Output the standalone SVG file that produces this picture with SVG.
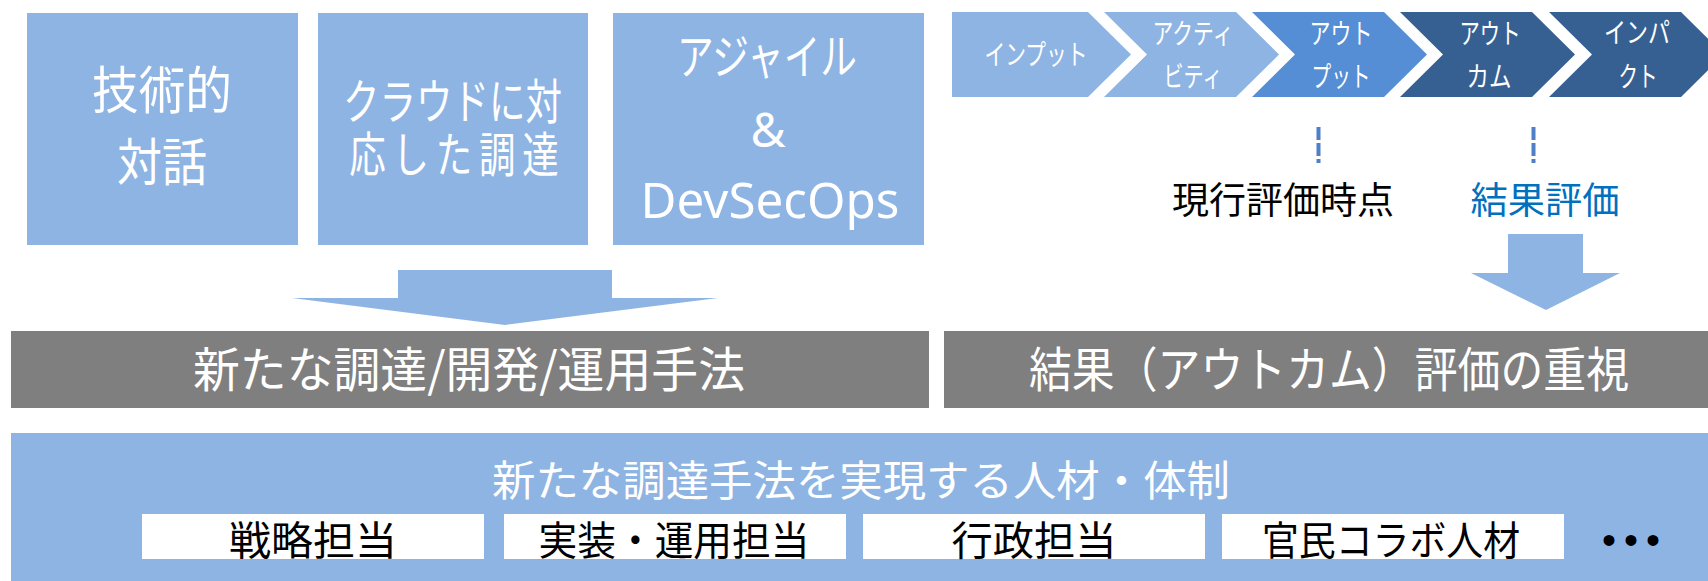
<svg xmlns="http://www.w3.org/2000/svg" width="1708" height="581" viewBox="0 0 1708 581">
<style>
.lb{fill:#8EB4E3}
.mb{fill:#558ED5}
.db{fill:#376092}
.gr{fill:#7F7F7F}
.wh{fill:#FFFFFF}
text{font-family:"Noto Sans CJK JP","Noto Sans",sans-serif;text-anchor:middle}
.wt{fill:#FFFFFF}
.bk{fill:#000000}
.lat{font-family:"Noto Sans","Liberation Sans",sans-serif}
.dash{stroke:#4F7FC6;stroke-width:4;stroke-dasharray:13 3;fill:none}
</style>
<rect width="1708" height="581" fill="#FFFFFF"/>

<g id="node-gijutsu">
<rect class="lb" x="27" y="13" width="271" height="232"/>
<text class="wt" font-size="51"><tspan x="162" y="109" textLength="140" lengthAdjust="spacingAndGlyphs">技術的</tspan><tspan x="162" y="181" textLength="90" lengthAdjust="spacingAndGlyphs">対話</tspan></text>
</g>

<g id="node-cloud">
<rect class="lb" x="318" y="13" width="270" height="232"/>
<text class="wt" font-size="48" transform="scale(0.76,1)" x="475.3 523.4 571.4 619.5 667.5 715.5 483.7 540.5 597.4 654.2 711.1" y="119 119 119 119 119 119 172 172 172 172 172">クラウドに対応した調達</text>
</g>

<g id="node-agile">
<rect class="lb" x="613" y="13" width="311" height="232"/>
<text class="wt" x="767" y="74" font-size="48" textLength="180" lengthAdjust="spacingAndGlyphs">アジャイル</text>
<text class="wt lat" x="768" y="147" font-size="48">&amp;</text>
<text class="wt lat" x="770" y="218" font-size="50" textLength="259" lengthAdjust="spacingAndGlyphs">DevSecOps</text>
</g>

<g id="node-chevrons">
<polygon class="lb" points="952,12 1088,12 1131,54.5 1088,97 952,97"/>
<polygon class="lb" points="1104,12 1236,12 1279,54.5 1236,97 1104,97 1147,54.5"/>
<polygon class="mb" points="1252,12 1384,12 1427,54.5 1384,97 1252,97 1295,54.5"/>
<polygon class="db" points="1400,12 1532,12 1575,54.5 1532,97 1400,97 1443,54.5"/>
<polygon class="db" points="1549,12 1681,12 1724,54.5 1681,97 1549,97 1592,54.5"/>
<text class="wt" x="1036" y="65" font-size="28" textLength="103" lengthAdjust="spacingAndGlyphs">インプット</text>
<text class="wt" font-size="28"><tspan x="1193" y="44" textLength="81" lengthAdjust="spacingAndGlyphs">アクティ</tspan><tspan x="1193" y="87" textLength="59" lengthAdjust="spacingAndGlyphs">ビティ</tspan></text>
<text class="wt" font-size="28"><tspan x="1341" y="44" textLength="63" lengthAdjust="spacingAndGlyphs">アウト</tspan><tspan x="1341" y="87" textLength="59" lengthAdjust="spacingAndGlyphs">プット</tspan></text>
<text class="wt" font-size="28"><tspan x="1490" y="44" textLength="61" lengthAdjust="spacingAndGlyphs">アウト</tspan><tspan x="1489" y="87" textLength="45" lengthAdjust="spacingAndGlyphs">カム</tspan></text>
<text class="wt" font-size="28"><tspan x="1637" y="43" textLength="66" lengthAdjust="spacingAndGlyphs">インパ</tspan><tspan x="1638" y="87" textLength="39" lengthAdjust="spacingAndGlyphs">クト</tspan></text>
</g>

<g id="label-current">
<text class="bk" x="1283" y="214" font-size="37" textLength="222" lengthAdjust="spacingAndGlyphs">現行評価時点</text>
</g>
<g id="label-result">
<text x="1545" y="214" font-size="37" fill="#0070C0" textLength="149" lengthAdjust="spacingAndGlyphs">結果評価</text>
</g>

<g id="connectors">
<line class="dash" x1="1318.5" y1="127" x2="1318.5" y2="163"/>
<line class="dash" x1="1533.5" y1="127" x2="1533.5" y2="163"/>
<polygon class="lb" points="398,270 612,270 612,298 718,298 505,325 292,298 398,298"/>
<polygon class="lb" points="1508,234 1583,234 1583,273 1620,273 1546,310 1471,273 1508,273"/>
</g>

<g id="node-method">
<rect class="gr" x="11" y="331" width="918" height="77"/>
<text class="wt" x="469" y="387" font-size="48" textLength="552" lengthAdjust="spacingAndGlyphs">新たな調達/開発/運用手法</text>
</g>

<g id="node-outcome">
<rect class="gr" x="944" y="331" width="764" height="77"/>
<text class="wt" x="1329" y="387" font-size="48" textLength="600" lengthAdjust="spacingAndGlyphs">結果（アウトカム）評価の重視</text>
</g>

<g id="node-people">
<rect class="lb" x="11" y="433" width="1697" height="148"/>
<text class="wt" x="861" y="496" font-size="42" textLength="738" lengthAdjust="spacingAndGlyphs">新たな調達手法を実現する人材・体制</text>
</g>

<g id="node-senryaku">
<rect class="wh" x="142" y="514" width="342" height="45"/>
<text class="bk" x="313" y="555" font-size="40" textLength="168" lengthAdjust="spacingAndGlyphs">戦略担当</text>
</g>
<g id="node-jisso">
<rect class="wh" x="504" y="514" width="342" height="45"/>
<text class="bk" x="674" y="555" font-size="40" textLength="271" lengthAdjust="spacingAndGlyphs">実装・運用担当</text>
</g>
<g id="node-gyosei">
<rect class="wh" x="863" y="514" width="342" height="45"/>
<text class="bk" x="1034" y="555" font-size="40" textLength="165" lengthAdjust="spacingAndGlyphs">行政担当</text>
</g>
<g id="node-kanmin">
<rect class="wh" x="1222" y="514" width="342" height="45"/>
<text class="bk" x="1391" y="555" font-size="40" textLength="258" lengthAdjust="spacingAndGlyphs">官民コラボ人材</text>
</g>
<g id="node-etc">
<text class="bk" x="1609 1631 1653" y="554" font-size="40" style="font-family:'Liberation Sans',sans-serif">•••</text>
</g>
</svg>
